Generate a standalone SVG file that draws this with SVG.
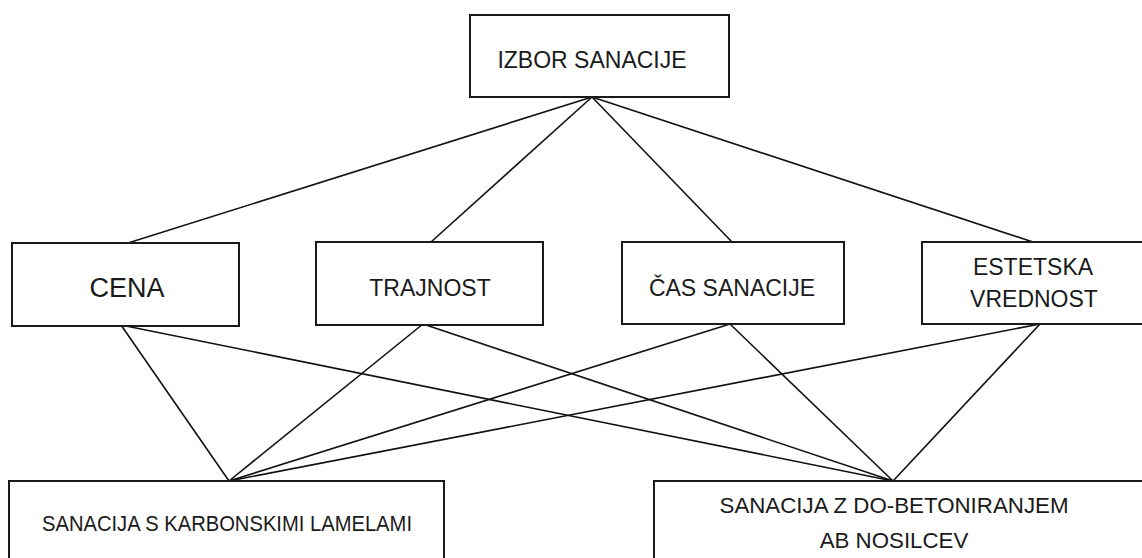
<svg xmlns="http://www.w3.org/2000/svg" width="1142" height="558" viewBox="0 0 1142 558">
<style>
.box{fill:#fff;stroke:#1a1a1a;stroke-width:2}
.lbl{font-family:"Liberation Sans",Arial,sans-serif;fill:#1a1a1a;text-anchor:middle}
.con line{stroke:#111;stroke-width:1.6}
</style>
<rect width="1142" height="558" fill="#fff"/>
<g id="connectors" class="con">
<line x1="592" y1="97" x2="128" y2="243"/>
<line x1="592" y1="97" x2="431" y2="242"/>
<line x1="592" y1="97" x2="732" y2="242"/>
<line x1="592" y1="97" x2="1033" y2="242"/>
<line x1="121" y1="325" x2="229" y2="481"/>
<line x1="121" y1="325" x2="893" y2="481"/>
<line x1="423" y1="324" x2="229" y2="481"/>
<line x1="423" y1="324" x2="893" y2="481"/>
<line x1="730" y1="324" x2="229" y2="481"/>
<line x1="730" y1="324" x2="893" y2="481"/>
<line x1="1040" y1="324" x2="229" y2="481"/>
<line x1="1040" y1="324" x2="893" y2="481"/>
</g>
<g id="izbor">
<rect class="box" x="470" y="15" width="259" height="82"/>
<text class="lbl" x="592" y="68" font-size="23">IZBOR SANACIJE</text>
</g>
<g id="cena">
<rect class="box" x="12" y="243" width="227" height="83"/>
<text class="lbl" x="127" y="297" font-size="27">CENA</text>
</g>
<g id="trajnost">
<rect class="box" x="316" y="242" width="227" height="83"/>
<text class="lbl" x="430" y="296" font-size="23">TRAJNOST</text>
</g>
<g id="cas">
<rect class="box" x="622" y="242" width="222" height="82"/>
<text class="lbl" x="732" y="296" font-size="23">ČAS SANACIJE</text>
</g>
<g id="estetska">
<rect class="box" x="922" y="242" width="230" height="82"/>
<text class="lbl" x="1033" y="275" font-size="23">ESTETSKA</text>
<text class="lbl" x="1034" y="307" font-size="23">VREDNOST</text>
</g>
<g id="karbon">
<rect class="box" x="9" y="481" width="435" height="90"/>
<text class="lbl" x="227" y="531" font-size="21.5" textLength="370" lengthAdjust="spacingAndGlyphs">SANACIJA S KARBONSKIMI LAMELAMI</text>
</g>
<g id="betoniranje">
<rect class="box" x="654" y="481" width="500" height="90"/>
<text class="lbl" x="894" y="513" font-size="22.3">SANACIJA Z DO-BETONIRANJEM</text>
<text class="lbl" x="894" y="548" font-size="22.3">AB NOSILCEV</text>
</g>
</svg>
